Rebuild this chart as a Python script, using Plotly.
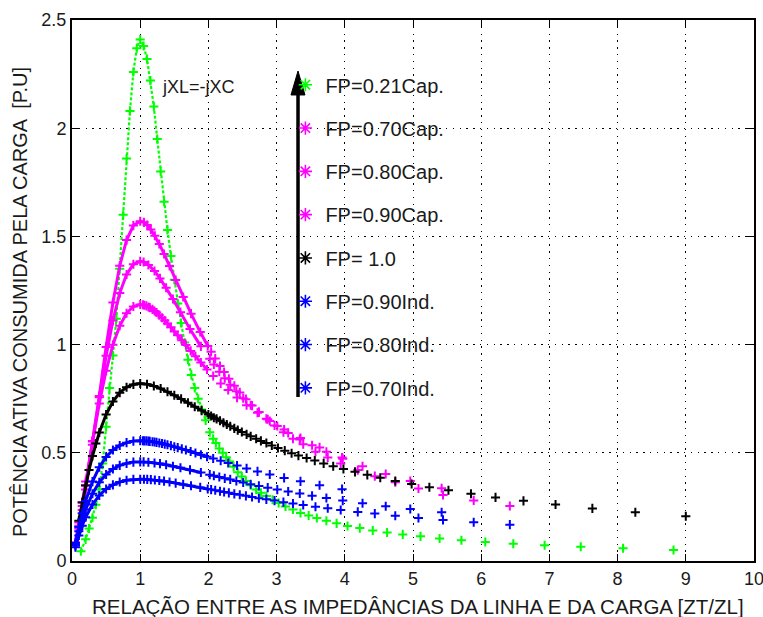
import plotly.graph_objects as go

# ---------------- data ----------------
x_ticks = [0, 1, 2, 3, 4, 5, 6, 7, 8, 9, 10]
y_ticks = [0, 0.5, 1, 1.5, 2, 2.5]
y_tick_text = ["0", "0.5", "1", "1.5", "2", "2.5"]

# FP = 0.21 Cap. (green)
x_g = [0.13, 0.20, 0.25, 0.30, 0.35, 0.40, 0.45, 0.50, 0.55, 0.60, 0.65, 0.70, 0.75, 0.80, 0.85,
       0.90, 0.95, 1.00, 1.05, 1.10, 1.15, 1.20, 1.25, 1.30, 1.35, 1.40, 1.45, 1.50, 1.55, 1.60,
       1.65, 1.70, 1.75, 1.80, 1.85, 1.90, 1.96, 2.02, 2.07, 2.11, 2.16, 2.21, 2.26, 2.31, 2.37,
       2.43, 2.49, 2.55, 2.62, 2.70, 2.77, 2.85, 2.94, 3.03, 3.13, 3.24, 3.35, 3.47, 3.59, 3.73,
       3.88, 4.04, 4.22, 4.41, 4.62, 4.85, 5.11, 5.39, 5.71, 6.06, 6.47, 6.93, 7.46, 8.08, 8.82]
y_g = [0.045, 0.10, 0.15, 0.20, 0.26, 0.33, 0.45, 0.62, 0.80, 0.95, 1.12, 1.35, 1.60, 1.86, 2.08,
       2.26, 2.37, 2.41, 2.38, 2.32, 2.22, 2.10, 1.95, 1.80, 1.66, 1.53, 1.41, 1.30, 1.19, 1.10,
       1.01, 0.93, 0.86, 0.80, 0.75, 0.70, 0.65, 0.595, 0.565, 0.545, 0.52, 0.50, 0.48, 0.46, 0.435,
       0.41, 0.39, 0.37, 0.35, 0.33, 0.315, 0.30, 0.283, 0.268, 0.252, 0.238, 0.222, 0.210, 0.199, 0.186,
       0.174, 0.162, 0.152, 0.141, 0.132, 0.123, 0.114, 0.104, 0.096, 0.088, 0.080, 0.073, 0.066, 0.059, 0.051]

# FP = 1.0 (black)
x_k = [0.10, 0.15, 0.20, 0.25, 0.30, 0.35, 0.40, 0.50, 0.60, 0.70, 0.80, 0.90, 1.00, 1.10, 1.20,
       1.30, 1.40, 1.50, 1.60, 1.70, 1.80, 1.90, 2.00, 2.04, 2.08, 2.12, 2.17, 2.22, 2.27, 2.32,
       2.38, 2.43, 2.49, 2.56, 2.62, 2.70, 2.77, 2.85, 2.93, 3.02, 3.12, 3.22, 3.32, 3.44, 3.56,
       3.69, 3.83, 3.98, 4.15, 4.33, 4.52, 4.74, 4.98, 5.24, 5.52, 5.85, 6.21, 6.62, 7.09, 7.63,
       8.26, 9.00]
y_k = [0.186, 0.270, 0.349, 0.421, 0.485, 0.543, 0.594, 0.677, 0.737, 0.778, 0.803, 0.816, 0.820, 0.817, 0.809,
       0.797, 0.782, 0.766, 0.749, 0.731, 0.713, 0.695, 0.677, 0.670, 0.662, 0.657, 0.648, 0.639, 0.631, 0.623,
       0.613, 0.605, 0.596, 0.585, 0.576, 0.565, 0.555, 0.545, 0.534, 0.522, 0.510, 0.498, 0.487, 0.476, 0.464,
       0.451, 0.438, 0.425, 0.412, 0.398, 0.385, 0.370, 0.356, 0.341, 0.327, 0.311, 0.294, 0.278, 0.261, 0.243,
       0.225, 0.207]

# FP = 0.70 pair (Cap. magenta / Ind. blue)
x_70 = [0.05, 0.10, 0.15, 0.20, 0.30, 0.40, 0.50, 0.60, 0.70, 0.80, 0.90, 1.00, 1.055, 1.103, 1.156,
        1.215, 1.28, 1.35, 1.43, 1.52, 1.63, 1.745, 1.88, 1.99, 2.04, 2.10, 2.17, 2.23, 2.30, 2.38,
        2.46, 2.55, 2.64, 2.74, 2.85, 2.97, 3.10, 3.24, 3.39, 3.57, 3.75, 3.94, 4.19, 4.44, 4.74,
        5.08, 5.44, 5.89, 6.42]
y_c70 = [0.071, 0.149, 0.236, 0.330, 0.537, 0.763, 0.989, 1.195, 1.364, 1.483, 1.550, 1.570, 1.565, 1.553, 1.532,
         1.503, 1.465, 1.419, 1.363, 1.298, 1.220, 1.143, 1.058, 0.994, 0.967, 0.936, 0.901, 0.873, 0.842, 0.810,
         0.779, 0.748, 0.718, 0.688, 0.657, 0.626, 0.595, 0.565, 0.540, 0.505, 0.478, 0.450, 0.420, 0.392, 0.364,
         0.335, 0.305, 0.280, 0.254]
y_i70 = [0.064, 0.118, 0.163, 0.202, 0.261, 0.303, 0.333, 0.352, 0.365, 0.373, 0.377, 0.378, 0.378, 0.377, 0.376,
         0.374, 0.372, 0.369, 0.365, 0.360, 0.354, 0.348, 0.340, 0.333, 0.330, 0.327, 0.322, 0.319, 0.315, 0.310,
         0.306, 0.301, 0.296, 0.290, 0.285, 0.279, 0.272, 0.266, 0.259, 0.251, 0.244, 0.236, 0.227, 0.219, 0.209,
         0.199, 0.190, 0.179, 0.168]

# FP = 0.80 pair
x_80 = [0.05, 0.10, 0.15, 0.20, 0.30, 0.40, 0.50, 0.60, 0.70, 0.80, 0.90, 1.00, 1.05, 1.12, 1.21,
        1.29, 1.38, 1.48, 1.59, 1.73, 1.89, 2.02, 2.08, 2.16, 2.24, 2.32, 2.41, 2.51, 2.62, 2.74,
        2.87, 3.01, 3.17, 3.34, 3.52, 3.73, 3.97, 4.26, 4.60, 4.96, 5.42]
y_c80 = [0.078, 0.163, 0.254, 0.350, 0.552, 0.757, 0.948, 1.111, 1.238, 1.324, 1.371, 1.385, 1.382, 1.368, 1.340,
         1.306, 1.263, 1.211, 1.150, 1.072, 0.992, 0.935, 0.908, 0.875, 0.845, 0.815, 0.785, 0.752, 0.720, 0.688,
         0.655, 0.624, 0.592, 0.562, 0.535, 0.505, 0.472, 0.438, 0.402, 0.370, 0.336]
y_i80 = [0.074, 0.137, 0.192, 0.238, 0.311, 0.364, 0.400, 0.425, 0.442, 0.451, 0.457, 0.458, 0.458, 0.456, 0.453,
         0.450, 0.445, 0.438, 0.431, 0.421, 0.409, 0.399, 0.394, 0.388, 0.382, 0.377, 0.370, 0.363, 0.355, 0.347,
         0.339, 0.330, 0.321, 0.312, 0.301, 0.291, 0.279, 0.267, 0.253, 0.240, 0.225]

# FP = 0.90 pair
x_90 = [0.05, 0.10, 0.15, 0.20, 0.30, 0.40, 0.50, 0.60, 0.70, 0.80, 0.90, 1.00, 1.04, 1.06, 1.09,
        1.12, 1.14, 1.18, 1.21, 1.24, 1.28, 1.32, 1.36, 1.40, 1.45, 1.50, 1.55, 1.61, 1.67, 1.74,
        1.81, 1.89, 1.98, 2.07, 2.18, 2.29, 2.42, 2.56, 2.72, 2.90, 3.11, 3.35, 3.63, 3.96]
y_c90 = [0.087, 0.178, 0.272, 0.367, 0.554, 0.728, 0.879, 0.999, 1.087, 1.145, 1.176, 1.185, 1.184, 1.182, 1.179,
         1.174, 1.171, 1.163, 1.155, 1.148, 1.136, 1.124, 1.111, 1.097, 1.080, 1.061, 1.043, 1.020, 0.998, 0.971,
         0.946, 0.917, 0.885, 0.855, 0.820, 0.790, 0.755, 0.720, 0.685, 0.647, 0.608, 0.568, 0.525, 0.478]
y_i90 = [0.083, 0.157, 0.221, 0.277, 0.367, 0.433, 0.481, 0.513, 0.534, 0.547, 0.554, 0.556, 0.556, 0.555, 0.555,
         0.554, 0.553, 0.551, 0.550, 0.548, 0.545, 0.543, 0.540, 0.537, 0.533, 0.528, 0.524, 0.518, 0.513, 0.506,
         0.499, 0.491, 0.482, 0.474, 0.463, 0.453, 0.441, 0.428, 0.414, 0.400, 0.384, 0.368, 0.350, 0.332]

GREEN, MAGENTA, BLUE, BLACK = "#00ff00", "#ff00ff", "#0000ff", "#000000"

# name, colour, x, y, limit of the dense (continuous-looking) part
series = [
    ("FP=0.21Cap.", GREEN, x_g, y_g, 2.0),
    ("FP=0.70Cap.", MAGENTA, x_70, y_c70, 2.0),
    ("FP=0.80Cap.", MAGENTA, x_80, y_c80, 2.0),
    ("FP=0.90Cap.", MAGENTA, x_90, y_c90, 2.0),
    ("FP= 1.0", BLACK, x_k, y_k, 2.3),
    ("FP=0.90Ind.", BLUE, x_90, y_i90, 2.0),
    ("FP=0.80Ind.", BLUE, x_80, y_i80, 2.0),
    ("FP=0.70Ind.", BLUE, x_70, y_i70, 2.0),
]

FONT = "Liberation Sans, Arial, sans-serif"
TXT = "#1a1a1a"

fig = go.Figure()

for name, col, xs, ys, lim in series:
    n = sum(1 for v in xs if v <= lim)
    fig.add_trace(go.Scatter(
        x=xs[:n], y=ys[:n], mode="lines", showlegend=False, hoverinfo="skip",
        line=dict(color=col, width=3 if col != GREEN else 2.2,
                  dash="solid" if col != GREEN else "3px,2px")))
    fig.add_trace(go.Scatter(
        x=xs, y=ys, mode="markers", showlegend=False, name=name,
        marker=dict(symbol="cross-thin", size=6.5, color=col, line=dict(color=col, width=2))))

# legend entries ('*' symbols as in the reference)
for name, col, xs, ys, lim in series:
    fig.add_trace(go.Scatter(
        x=[None], y=[None], mode="markers", name=name, showlegend=True,
        legendgroup=name,
        marker=dict(symbol="asterisk-open", size=11, color=col, line=dict(color=col, width=1.6))))

axis_common = dict(
    showgrid=True, gridcolor="black", gridwidth=1, griddash="1.3px,5.5px",
    ticks="inside", ticklen=7, tickwidth=1.3, tickcolor="black",
    showline=True, linecolor="black", linewidth=2, mirror="ticks",
    zeroline=False, automargin=False, ticklabeloverflow="allow",
    tickfont=dict(family=FONT, size=18, color=TXT),
)
fig.update_xaxes(range=[0, 10], tickvals=x_ticks, **axis_common)
fig.update_yaxes(range=[0, 2.5], tickvals=y_ticks, ticktext=y_tick_text, **axis_common)

fig.update_layout(
    width=763, height=617, autosize=False,
    margin=dict(l=72, r=9, t=20, b=56, autoexpand=False),
    paper_bgcolor="white", plot_bgcolor="white",
    font=dict(family=FONT, size=18, color=TXT),
    showlegend=True,
    legend=dict(x=0.3129, y=0.9164, xanchor="left", yanchor="top",
                bgcolor="rgba(0,0,0,0)", borderwidth=0,
                font=dict(family=FONT, size=20, color=TXT),
                traceorder="grouped", tracegroupgap=14.3, itemsizing="trace"),
    annotations=[
        dict(text="POTÊNCIA ATIVA CONSUMIDA PELA CARGA \u00a0[P.U]", textangle=-90,
             xref="paper", yref="paper", x=-0.0762, y=0.4787, xanchor="center", yanchor="middle",
             showarrow=False, font=dict(family=FONT, size=20, color=TXT)),
        dict(text="RELAÇÃO ENTRE AS IMPEDÂNCIAS DA LINHA E DA CARGA [ZT/ZL]",
             xref="paper", yref="paper", x=0.507, y=-0.0832, xanchor="center", yanchor="middle",
             showarrow=False, font=dict(family=FONT, size=20.5, color=TXT)),
        dict(text="jXL=-jXC", xref="paper", yref="paper", x=0.1848, y=0.876,
             xanchor="center", yanchor="middle",
             showarrow=False, font=dict(family=FONT, size=18, color=TXT)),
    ],
    shapes=[
        dict(type="line", xref="paper", yref="paper", x0=0.3314, x1=0.3314, y0=0.303, y1=0.87,
             line=dict(color="black", width=3.5)),
        dict(type="path", xref="paper", yref="paper",
             path="M 0.3314 0.9057 L 0.3211 0.8614 L 0.3416 0.8614 Z",
             fillcolor="black", line=dict(color="black", width=1)),
    ],
)

fig.write_html(
    "out.html",
    config={"responsive": False, "displayModeBar": False},
    default_width="763px", default_height="617px",
    post_script=("document.body.style.margin='0';document.body.style.overflow='hidden';"
                 "document.documentElement.style.overflow='hidden';"),
)
